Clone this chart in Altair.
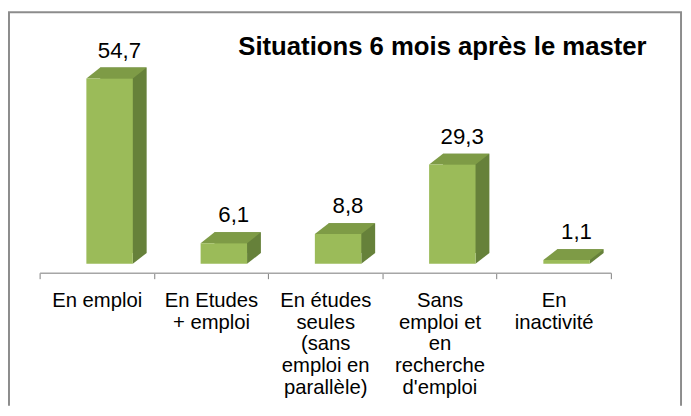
import altair as alt
import pandas as pd

# ---- data ----
label_lines = [
    ["En emploi"],
    ["En Etudes", "+ emploi"],
    ["En études", "seules", "(sans", "emploi en", "parallèle)"],
    ["Sans", "emploi et", "en", "recherche", "d'emploi"],
    ["En", "inactivité"],
]
values = [54.7, 6.1, 8.8, 29.3, 1.1]
title_text = "Situations 6 mois après le master"

cat_keys = ["|".join(l) for l in label_lines]
df = pd.DataFrame({"cat": cat_keys, "value": values})

FRONT = "#9BBB59"
TOP = "#7E9B46"
SIDE = "#66813A"
FONT = "Liberation Sans"

W, H = 683, 400
BAR_W = 47
SHIFT = 13   # front face shift from band centre
DX, DY = 14, 11  # 3D depth

xscale = alt.Scale(range=[32, 610], paddingInner=0, paddingOuter=0)
yscale = alt.Scale(domain=[0, 70], range=[256.5, 16.4])

xaxis = alt.Axis(
    title=None, labelAngle=0, labelFont=FONT, labelFontSize=20.5, labelColor="black",
    labelLineHeight=22, labelExpr="split(datum.label, '|')", labelBaseline="top",
    labelPadding=12, tickBand="extent", tickSize=6, tickColor="#7F7F7F",
    tickWidth=1, domainColor="#A6A6A6", domainWidth=1.5, grid=False, offset=265.5 - H,
)

base = alt.Chart(df).transform_calculate(zero="0").encode(
    x=alt.X("cat:N", sort=cat_keys, scale=xscale, axis=xaxis))
Y = alt.Y("value:Q", scale=yscale, axis=None)
Y0 = alt.Y("zero:Q", scale=yscale, axis=None)

k = BAR_W  # path scale for custom symbols
size = (2 * k) ** 2
dxu, dyu = DX / k, DY / k

back = base.mark_bar(size=BAR_W, xOffset=SHIFT + DX, yOffset=-DY, y2Offset=-DY, color=SIDE).encode(
    y=Y, y2="zero:Q")
btri = base.mark_point(
    shape=f"M0,0L0,{-dyu:.4f}L{dxu:.4f},{-dyu:.4f}Z", size=size, filled=True, opacity=1,
    strokeWidth=0, color=SIDE, xOffset=SHIFT + BAR_W / 2).encode(y=Y0)
top = base.mark_point(
    shape=f"M0,0L1,0L{1 + dxu:.4f},{-dyu:.4f}L{dxu:.4f},{-dyu:.4f}Z", size=size, filled=True,
    opacity=1, strokeWidth=0, color=TOP, xOffset=SHIFT - BAR_W / 2).encode(y=Y)
front = base.mark_bar(size=BAR_W, xOffset=SHIFT, color=FRONT).encode(y=Y, y2="zero:Q")
labels = base.transform_calculate(
    lbl="replace(format(datum.value, '.1f'), '.', ',')"
).mark_text(font=FONT, fontSize=22.5, color="black", dx=23, dy=-21, baseline="alphabetic",
            align="center").encode(y=Y, text="lbl:N")

fdf = pd.DataFrame({"a": [0]})
frame_left = alt.Chart(fdf).mark_rule(color="#8C8C8C", strokeWidth=2).encode(
    x=alt.value(1), x2=alt.value(1), y=alt.value(2), y2=alt.value(H))
frame_top = alt.Chart(fdf).mark_rule(color="#8C8C8C", strokeWidth=2).encode(
    x=alt.value(0), x2=alt.value(682), y=alt.value(2), y2=alt.value(2))
frame_right = alt.Chart(fdf).mark_rule(color="#8C8C8C", strokeWidth=2).encode(
    x=alt.value(681), x2=alt.value(681), y=alt.value(2), y2=alt.value(H))

chart = alt.layer(back, btri, top, front, labels, frame_left, frame_top, frame_right).properties(
    width=W, height=H,
    autosize=alt.AutoSizeParams(type="none"),
    padding=0,
    title=alt.TitleParams(title_text, anchor="start", frame="group", orient="top", offset=0,
                          baseline="alphabetic", dx=233, dy=71, font=FONT, fontSize=26,
                          fontWeight="bold", color="black"),
).configure(background="white").configure_view(stroke=None)

chart.save("out.html", embed_options={"renderer": "svg", "actions": False})
